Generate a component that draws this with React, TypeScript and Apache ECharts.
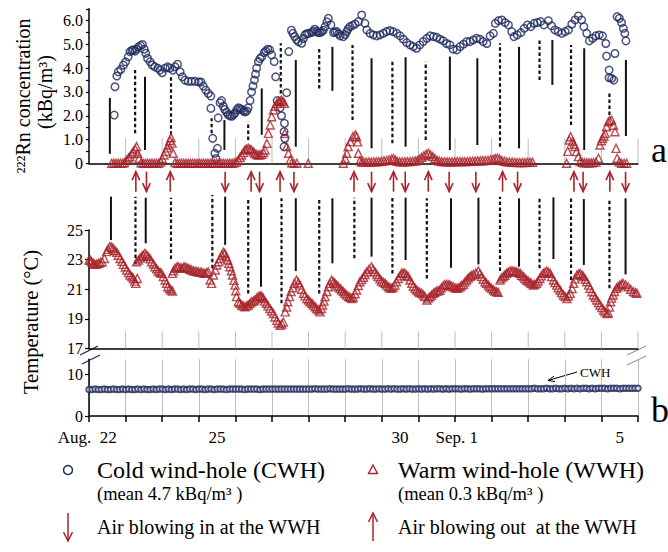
import React, { useEffect, useRef } from 'react';
import * as echarts from 'echarts';

const NAVY = '#1e2a5c';
const RED = '#a8232b';
const FONT = '"Liberation Serif", "Times New Roman", serif';

// ---------- data ----------
const dayLabels = ['Aug.  22', '', '', '25', '', '', '', '', '30', '', 'Sep. 1', '', '', '', '5'];
const dayBoundaries = [1, 2, 3, 4, 5, 6, 7, 8, 9, 10, 11, 12, 13, 14, 15];

// CWH radon (kBq/m3) [day, value]
const cwhRadon = [
  [0.69, 2.03], [0.71, 3.22], [0.76, 3.67], [0.8, 3.85], [0.87, 3.95], [0.94, 4.13], [1.0, 4.27], [1.07, 4.48], [1.12, 4.7], [1.17, 4.75], [1.21, 4.77], [1.26, 4.72], [1.3, 4.8], [1.35, 4.9], [1.41, 4.95], [1.46, 5.0], [1.51, 4.8], [1.55, 4.63], [1.6, 4.42], [1.67, 4.27], [1.73, 4.13], [1.8, 4.06], [1.88, 4.0], [1.94, 3.92], [2.0, 3.81], [2.08, 4.0], [2.15, 4.06], [2.21, 4.0], [2.29, 3.92], [2.35, 4.06], [2.42, 4.17], [2.49, 3.85], [2.55, 3.64], [2.62, 3.5], [2.71, 3.45], [2.8, 3.45], [2.9, 3.45], [3.0, 3.42], [3.06, 3.42], [3.12, 3.25], [3.19, 3.08], [3.26, 2.94], [3.33, 2.83],
  [3.33, 2.31], [3.38, 1.05], [3.44, 0.42], [3.47, 0.2], [3.51, 0.63], [3.53, 1.91], [3.58, 2.55], [3.62, 2.64], [3.67, 2.4], [3.71, 2.26], [3.76, 2.15], [3.8, 2.05], [3.85, 2.0], [3.9, 1.98], [3.95, 2.05], [3.99, 2.12], [4.04, 2.25], [4.08, 2.33], [4.13, 2.3], [4.17, 2.26], [4.22, 2.2], [4.26, 2.16], [4.31, 2.2], [4.35, 2.33], [4.4, 2.64], [4.44, 3.0], [4.48, 3.25], [4.52, 3.5], [4.55, 3.75], [4.58, 4.0], [4.63, 4.28], [4.67, 4.4], [4.72, 4.48], [4.79, 4.66], [4.83, 4.72], [4.88, 4.8], [4.94, 4.77], [4.99, 4.56], [5.06, 4.28], [5.1, 3.64], [5.14, 2.64], [5.22, 2.33], [5.26, 2.0], [5.34, 1.68], [5.33, 1.33], [5.35, 1.05], [5.33, 0.7],
  [5.4, 2.97], [5.46, 4.7], [5.53, 5.6], [5.57, 5.47], [5.62, 5.33], [5.67, 5.2], [5.72, 5.12], [5.81, 5.05], [5.86, 5.25], [5.9, 5.4], [5.95, 5.45], [6.0, 5.47], [6.08, 5.5], [6.12, 5.55], [6.17, 5.64], [6.22, 5.55], [6.26, 5.5], [6.31, 5.5], [6.36, 5.54], [6.4, 5.6], [6.45, 5.75], [6.5, 5.95], [6.54, 6.1], [6.61, 5.82], [6.68, 5.5], [6.72, 5.52], [6.77, 5.54], [6.82, 5.45], [6.86, 5.36], [6.95, 5.33], [7.0, 5.42], [7.04, 5.54], [7.08, 5.65], [7.13, 5.75], [7.2, 5.8], [7.27, 5.86], [7.36, 5.96], [7.45, 6.24], [7.54, 5.89], [7.59, 5.61], [7.68, 5.47], [7.77, 5.4], [7.86, 5.36], [7.95, 5.4], [8.04, 5.47], [8.13, 5.54], [8.22, 5.58], [8.31, 5.54], [8.41, 5.47], [8.5, 5.36], [8.59, 5.22], [8.68, 5.08], [8.77, 4.98], [8.86, 4.91], [8.95, 4.84], [9.04, 4.98], [9.13, 5.12], [9.23, 5.26], [9.32, 5.36], [9.41, 5.33], [9.5, 5.3], [9.59, 5.22], [9.68, 5.15], [9.77, 5.04], [9.86, 4.98], [9.95, 4.8], [10.05, 4.77], [10.14, 4.91], [10.23, 5.01], [10.32, 5.12], [10.41, 5.12], [10.5, 5.19], [10.59, 5.26], [10.68, 5.22], [10.77, 5.12], [10.87, 5.04], [10.96, 5.36], [11.05, 5.47], [11.1, 5.89], [11.19, 6.0], [11.28, 6.03], [11.37, 5.92], [11.46, 5.82], [11.55, 5.54], [11.61, 5.33], [11.7, 5.4], [11.8, 5.5], [11.89, 5.68], [11.98, 5.82], [12.07, 5.75], [12.16, 5.89], [12.25, 5.92], [12.34, 5.96], [12.43, 5.82], [12.55, 6.0], [12.64, 5.78], [12.73, 5.61], [12.82, 5.54], [12.92, 5.47], [13.01, 5.54], [13.1, 5.61], [13.19, 5.85], [13.28, 6.03], [13.37, 6.2], [13.46, 6.03], [13.52, 5.75], [13.6, 5.47], [13.67, 5.15], [13.76, 5.26], [13.85, 5.36], [13.94, 5.4], [14.03, 5.36], [14.12, 5.04], [14.14, 4.51], [14.21, 3.92], [14.21, 3.6], [14.28, 3.57], [14.34, 3.5], [14.37, 4.62], [14.43, 6.17], [14.49, 6.1], [14.55, 5.92], [14.6, 5.68], [14.64, 5.47], [14.67, 5.15],
];

// WWH radon (kBq/m3) [day, value]
const wwhRadon = [
  [0.62, 0], [0.68, 0], [0.74, 0], [0.8, 0], [0.86, 0], [0.92, 0], [0.97, 0.03], [1.03, 0.14], [1.08, 0.22], [1.12, 0.28], [1.17, 0.4], [1.21, 0.49], [1.26, 0.6], [1.3, 0.7], [1.33, 0.42], [1.37, 0.21], [1.42, 0.02], [1.48, 0], [1.54, 0], [1.6, 0], [1.66, 0], [1.72, 0], [1.78, 0], [1.84, 0], [1.9, 0], [1.96, 0.05],
  [2.0, 0.2], [2.05, 0.35], [2.1, 0.5], [2.14, 0.65], [2.17, 0.77], [2.21, 0.95], [2.24, 1.08], [2.27, 0.85], [2.3, 0.42], [2.35, 0.03], [2.41, 0], [2.47, 0], [2.53, 0], [2.59, 0], [2.65, 0], [2.71, 0], [2.77, 0], [2.83, 0], [2.89, 0], [2.95, 0], [3.01, 0], [3.07, 0], [3.13, 0], [3.19, 0], [3.25, 0], [3.31, 0], [3.37, 0], [3.43, 0], [3.49, 0], [3.55, 0], [3.61, 0], [3.67, 0], [3.73, 0], [3.79, 0], [3.85, 0], [3.91, 0], [3.97, 0.02], [4.03, 0.05],
  [4.08, 0.14], [4.13, 0.25], [4.17, 0.35], [4.22, 0.45], [4.26, 0.56], [4.3, 0.6], [4.35, 0.63], [4.4, 0.6], [4.44, 0.56], [4.49, 0.48], [4.53, 0.42], [4.58, 0.37], [4.63, 0.35], [4.67, 0.36], [4.72, 0.38], [4.77, 0.45], [4.81, 0.56], [4.86, 0.84], [4.9, 1.26], [4.95, 1.61], [4.99, 1.96], [5.04, 2.24], [5.08, 2.4], [5.13, 2.52], [5.18, 2.6], [5.22, 2.62], [5.26, 2.66], [5.3, 2.6], [5.34, 2.52], [5.35, 1.26], [5.4, 0.7], [5.45, 0.42], [5.5, 0.15], [5.54, 0.02], [5.6, 0], [5.68, 0], [5.99, 0],
  [6.95, 0], [7.0, 0.2], [7.04, 0.42], [7.08, 0.7], [7.14, 0.91], [7.21, 1.12], [7.28, 1.2], [7.31, 1.12], [7.34, 0.9], [7.36, 0.42], [7.4, 0.1], [7.45, 0.05],
  [7.5, 0.05], [7.57, 0.05], [7.64, 0.05], [7.71, 0.05], [7.78, 0.06], [7.85, 0.06], [7.92, 0.07], [7.99, 0.08], [8.06, 0.1], [8.13, 0.12], [8.2, 0.15], [8.27, 0.18], [8.32, 0.2], [8.37, 0.14], [8.42, 0.08], [8.49, 0.06], [8.56, 0.06], [8.63, 0.06], [8.7, 0.07], [8.77, 0.07], [8.84, 0.08], [8.91, 0.1], [8.97, 0.12], [9.03, 0.18], [9.09, 0.25], [9.15, 0.32], [9.21, 0.38], [9.27, 0.42], [9.33, 0.36], [9.39, 0.28], [9.45, 0.2], [9.51, 0.13], [9.57, 0.09], [9.64, 0.07], [9.71, 0.06], [9.78, 0.06], [9.85, 0.06], [9.92, 0.06], [9.99, 0.06], [10.06, 0.07], [10.13, 0.07], [10.2, 0.07], [10.27, 0.07], [10.34, 0.07], [10.41, 0.08], [10.48, 0.08], [10.55, 0.09], [10.62, 0.1], [10.69, 0.1], [10.76, 0.11], [10.83, 0.12], [10.9, 0.13], [10.97, 0.15], [11.04, 0.17], [11.1, 0.2], [11.16, 0.22], [11.22, 0.18], [11.28, 0.12], [11.35, 0.08], [11.42, 0.06], [11.49, 0.05], [11.56, 0.05], [11.63, 0.04], [11.7, 0.03], [11.77, 0.03], [11.84, 0.03], [11.91, 0.03], [11.98, 0.04], [12.05, 0.05], [12.12, 0.04],
  [13.05, 0], [13.08, 0.5], [13.12, 0.98], [13.16, 1.12], [13.21, 0.91], [13.25, 0.8], [13.28, 0.7], [13.32, 0.49], [13.37, 0.28], [13.42, 0.07], [13.48, 0.03], [13.54, 0.02], [13.6, 0.02], [13.66, 0.02], [13.72, 0.02], [13.78, 0.03], [13.85, 0.05], [13.92, 0.21], [13.96, 0.77], [14.0, 0.95], [14.03, 1.05], [14.07, 1.15], [14.1, 1.26], [14.14, 1.54], [14.19, 1.75], [14.23, 1.8], [14.28, 1.82], [14.33, 1.6], [14.37, 1.33], [14.4, 0.63], [14.43, 0.21], [14.49, 0.05], [14.55, 0], [14.62, 0], [14.69, 0],
];

// WWH temperature (°C) [day, value]
const wwhTemp = [
  [0.0, 22.97], [0.04, 22.95], [0.07, 22.86], [0.12, 22.75], [0.16, 22.68], [0.21, 22.7], [0.26, 22.75], [0.31, 22.8], [0.36, 22.86], [0.42, 23.08], [0.48, 23.54], [0.52, 23.7], [0.57, 23.88], [0.62, 23.85], [0.66, 23.76], [0.71, 23.62], [0.76, 23.49], [0.8, 23.3], [0.85, 23.08], [0.9, 22.88], [0.94, 22.68], [0.99, 22.5], [1.03, 22.3], [1.08, 22.12], [1.12, 21.96], [1.17, 21.85], [1.21, 21.73], [1.25, 21.55], [1.28, 21.4], [1.32, 21.73],
  [1.3, 22.86], [1.35, 22.97], [1.4, 23.1], [1.44, 23.2], [1.48, 23.3], [1.53, 23.42], [1.57, 23.3], [1.62, 23.2], [1.67, 23.05], [1.71, 22.86], [1.76, 22.7], [1.8, 22.52], [1.85, 22.38], [1.89, 22.23], [1.94, 22.15], [1.98, 22.07], [2.03, 21.85], [2.08, 21.62], [2.12, 21.4], [2.15, 21.17], [2.2, 21.05], [2.24, 20.95], [2.28, 20.88],
  [2.28, 22.07], [2.31, 22.25], [2.35, 22.41], [2.4, 22.5], [2.44, 22.52], [2.49, 22.45], [2.53, 22.41], [2.58, 22.48], [2.62, 22.52], [2.67, 22.45], [2.71, 22.41], [2.76, 22.35], [2.8, 22.3], [2.85, 22.25], [2.9, 22.23], [2.95, 22.2], [2.99, 22.18], [3.04, 22.15], [3.08, 22.14], [3.13, 22.1], [3.17, 22.07], [3.22, 22.12], [3.26, 22.18], [3.31, 21.62], [3.35, 21.4], [3.4, 21.96], [3.45, 22.3], [3.49, 22.64], [3.54, 22.86], [3.58, 23.08], [3.63, 23.3], [3.67, 23.49], [3.71, 23.42], [3.75, 23.2], [3.79, 22.97], [3.82, 22.75], [3.85, 22.52], [3.89, 22.25], [3.92, 21.96], [3.96, 21.6], [3.99, 21.28], [4.01, 20.9], [4.03, 20.5], [4.08, 20.16], [4.12, 20.05], [4.17, 19.93], [4.21, 19.88], [4.26, 19.82], [4.31, 19.88], [4.35, 19.93], [4.4, 20.05], [4.44, 20.16], [4.49, 20.2], [4.53, 20.27], [4.58, 20.4], [4.63, 20.5], [4.67, 20.53], [4.7, 20.56], [4.73, 20.48], [4.76, 20.38], [4.8, 20.2], [4.85, 20.05], [4.89, 19.88], [4.94, 19.7], [4.99, 19.53], [5.04, 19.36], [5.08, 19.13], [5.13, 18.9], [5.17, 18.72], [5.22, 18.56], [5.27, 18.65], [5.31, 18.79], [5.36, 19.47], [5.4, 19.8], [5.43, 20.16], [5.48, 20.5], [5.52, 20.84], [5.57, 21.1], [5.61, 21.4], [5.67, 21.62], [5.72, 21.45], [5.76, 21.28], [5.81, 21.0], [5.86, 20.72], [5.9, 20.55], [5.95, 20.38], [6.0, 20.27], [6.04, 20.16], [6.09, 20.05], [6.13, 19.93], [6.18, 19.82], [6.22, 19.7], [6.27, 19.6], [6.31, 19.47], [6.35, 19.7], [6.38, 19.93], [6.42, 20.2], [6.45, 20.5], [6.5, 20.85], [6.54, 21.17], [6.58, 21.4], [6.63, 21.62], [6.68, 21.5], [6.72, 21.4], [6.77, 21.28], [6.81, 21.17], [6.86, 21.06], [6.9, 20.95], [6.95, 20.84], [6.99, 20.72], [7.04, 20.6], [7.09, 20.5], [7.13, 20.45], [7.18, 20.38], [7.22, 20.45], [7.27, 20.7], [7.31, 20.95], [7.36, 21.25], [7.4, 21.51], [7.45, 21.65], [7.5, 21.8], [7.54, 22.0], [7.59, 22.18], [7.65, 22.35], [7.72, 22.52], [7.76, 22.35], [7.81, 22.18], [7.86, 22.0], [7.9, 21.85], [7.95, 21.7], [7.99, 21.55], [8.04, 21.48], [8.09, 21.4], [8.13, 21.28], [8.18, 21.17], [8.22, 21.1], [8.27, 21.06], [8.31, 21.15], [8.36, 21.28], [8.4, 21.5], [8.45, 21.73], [8.5, 21.9], [8.54, 22.07], [8.58, 22.1], [8.63, 22.07], [8.68, 21.95], [8.72, 21.85], [8.77, 21.62], [8.82, 21.4], [8.86, 21.2], [8.91, 21.06], [8.95, 20.95], [9.0, 20.84], [9.04, 20.78], [9.09, 20.72], [9.14, 20.6], [9.18, 20.5], [9.23, 20.27], [9.27, 20.4], [9.32, 20.5], [9.36, 20.6], [9.41, 20.72], [9.45, 20.8], [9.5, 20.88], [9.54, 20.9], [9.59, 20.95], [9.63, 21.1], [9.68, 21.24], [9.72, 21.3], [9.77, 21.33], [9.82, 21.3], [9.86, 21.28], [9.9, 21.22], [9.95, 21.17], [10.0, 21.1], [10.05, 21.06], [10.09, 21.1], [10.14, 21.17], [10.18, 21.25], [10.23, 21.33], [10.27, 21.48], [10.32, 21.62], [10.36, 21.75], [10.41, 21.85], [10.45, 21.92], [10.5, 22.0], [10.57, 22.1], [10.64, 22.23], [10.68, 22.05], [10.73, 21.85], [10.77, 21.68], [10.82, 21.51], [10.86, 21.4], [10.91, 21.28], [10.95, 21.17], [11.0, 21.06], [11.05, 20.97], [11.09, 20.88], [11.14, 20.83], [11.18, 20.79],
  [11.23, 21.62], [11.27, 21.75], [11.32, 21.85], [11.36, 21.95], [11.41, 22.07], [11.45, 22.15], [11.5, 22.23], [11.55, 22.23], [11.59, 22.23], [11.64, 22.2], [11.68, 22.18], [11.73, 22.12], [11.78, 22.07], [11.82, 21.95], [11.87, 21.85], [11.91, 21.73], [11.96, 21.62], [12.0, 21.55], [12.05, 21.46], [12.09, 21.38], [12.14, 21.28], [12.18, 21.33], [12.23, 21.4], [12.27, 21.55], [12.32, 21.73], [12.36, 21.9], [12.41, 22.07], [12.46, 22.15], [12.51, 22.23], [12.55, 22.15], [12.6, 22.07], [12.64, 21.85], [12.69, 21.62], [12.73, 21.45], [12.78, 21.28], [12.82, 21.1], [12.87, 20.95], [12.91, 20.78], [12.96, 20.61], [13.01, 20.5], [13.06, 20.38], [13.1, 20.55], [13.15, 20.72], [13.2, 21.05], [13.24, 21.4], [13.28, 21.7], [13.33, 21.96], [13.38, 22.02], [13.42, 22.07], [13.47, 21.95], [13.51, 21.85], [13.56, 21.68], [13.6, 21.51], [13.65, 21.28], [13.69, 21.06], [13.74, 20.83], [13.78, 20.61], [13.83, 20.45], [13.87, 20.27], [13.92, 20.1], [13.96, 19.93], [14.01, 19.76], [14.06, 19.59], [14.1, 19.47], [14.15, 19.36], [14.19, 19.4], [14.22, 19.8], [14.25, 20.16], [14.28, 20.4], [14.32, 20.61], [14.36, 20.85], [14.41, 21.06], [14.45, 21.17], [14.5, 21.28], [14.55, 21.35], [14.59, 21.4], [14.66, 21.3], [14.73, 21.17], [14.8, 21.0], [14.87, 20.84], [14.93, 20.78], [14.97, 20.72],
];

// CWH temperature (°C), one reading every 2 hours from Aug 22 00:00
const cwhTempStepDays = 1 / 12;
const cwhTemp = [
  6.3, 6.3, 6.4, 6.3, 6.3, 6.4, 6.3, 6.3, 6.4, 6.3, 6.3, 6.4,
  6.3, 6.4, 6.3, 6.3, 6.4, 6.3, 6.4, 6.3, 6.3, 6.4, 6.3, 6.4,
  6.4, 6.3, 6.4, 6.3, 6.4, 6.4, 6.3, 6.4, 6.3, 6.4, 6.4, 6.3,
  6.4, 6.4, 6.3, 6.4, 6.4, 6.3, 6.4, 6.4, 6.4, 6.3, 6.4, 6.4,
  6.4, 6.4, 6.4, 6.3, 6.4, 6.4, 6.4, 6.4, 6.3, 6.4, 6.4, 6.4,
  6.4, 6.4, 6.4, 6.4, 6.4, 6.4, 6.4, 6.4, 6.4, 6.4, 6.4, 6.4,
  6.4, 6.4, 6.5, 6.4, 6.4, 6.4, 6.4, 6.5, 6.4, 6.4, 6.4, 6.4,
  6.4, 6.5, 6.4, 6.4, 6.4, 6.5, 6.4, 6.4, 6.5, 6.4, 6.4, 6.5,
  6.4, 6.4, 6.5, 6.4, 6.5, 6.4, 6.4, 6.5, 6.4, 6.5, 6.4, 6.4,
  6.5, 6.4, 6.5, 6.4, 6.5, 6.4, 6.5, 6.5, 6.4, 6.5, 6.4, 6.5,
  6.5, 6.5, 6.4, 6.5, 6.5, 6.4, 6.5, 6.5, 6.5, 6.4, 6.5, 6.5,
  6.5, 6.5, 6.5, 6.5, 6.5, 6.5, 6.5, 6.5, 6.5, 6.5, 6.5, 6.5,
  6.5, 6.5, 6.6, 6.5, 6.5, 6.5, 6.6, 6.5, 6.5, 6.6, 6.5, 6.5,
  6.6, 6.5, 6.6, 6.5, 6.6, 6.5, 6.6, 6.6, 6.5, 6.6, 6.5, 6.6,
  6.6, 6.6, 6.5, 6.6, 6.6, 6.6, 6.5, 6.6, 6.6, 6.6, 6.6, 6.6,
  6.6,
];

// event lines: [day, from, to] in the panel's units
const radonSolidLines = [[0.57, 0.4, 2.75], [1.53, 0.56, 3.64], [3.7, 0.56, 1.82], [4.72, 1.2, 3.15], [5.65, 0.7, 4.35], [6.65, 3.05, 4.9], [7.72, 0.63, 4.42], [8.65, 0.7, 4.46], [9.86, 0.56, 4.49], [10.61, 0.77, 4.42], [11.75, 0.63, 4.9], [12.66, 3.3, 5.19], [13.53, 0.56, 4.84], [14.67, 1.15, 4.35]];
const radonDashedLines = [[1.26, 1.26, 3.93], [2.24, 1.2, 3.64], [3.35, 1.26, 1.9], [4.35, 0.98, 1.75], [5.24, 2.94, 5.05], [6.29, 3.15, 4.84], [7.2, 1.82, 4.98], [8.29, 0.84, 4.35], [9.2, 0.98, 4.27], [11.23, 0.7, 5.05], [12.31, 3.5, 5.19], [13.17, 1.61, 4.98], [14.22, 2.03, 3.01]];
const tempSolidLines = [[0.6, 24.32, 27.25], [1.55, 24.1, 27.18], [3.72, 24.0, 27.25], [4.7, 21.17, 27.18], [5.65, 22.23, 27.14], [6.65, 22.75, 27.14], [7.72, 23.2, 27.18], [8.65, 22.97, 27.18], [9.89, 22.45, 27.14], [10.64, 22.68, 27.18], [11.75, 22.52, 27.14], [12.69, 23.04, 27.2], [13.52, 22.64, 27.09], [14.66, 22.0, 27.14]];
const tempDashedLines = [[1.27, 22.7, 27.25], [2.24, 23.04, 27.18], [3.37, 22.41, 27.36], [4.35, 20.72, 27.14], [5.26, 20.05, 27.14], [6.29, 20.72, 27.14], [7.25, 23.09, 27.18], [8.29, 22.07, 27.18], [9.23, 21.73, 27.14], [11.23, 22.23, 27.25], [12.31, 22.41, 27.25], [13.17, 21.62, 27.14], [14.22, 21.06, 27.14]];

// air flow arrows at the WWH (day)
const blowingOutDays = [1.28, 2.22, 4.43, 5.22, 7.24, 8.32, 9.27, 11.3, 13.25, 14.23];
const blowingInDays = [1.57, 3.72, 4.66, 5.6, 7.72, 8.64, 9.84, 10.57, 11.71, 13.5, 14.66];

const radonTickLabel = (v: number) =>
  Math.abs(v - Math.round(v)) < 1e-6 ? (v === 0 ? '0' : v.toFixed(1)) : '';

// layout constants (axis units) for decorative elements
const ARROW_HI = 28.94;
const ARROW_LO = 27.59;
const RADON_GRID_TOP = 1.05;
const TEMP_GRID_TOP = 18.15;

function vlineSeries(data: number[][], xi: number, yi: number, dashed: boolean) {
  return {
    type: 'custom', xAxisIndex: xi, yAxisIndex: yi, clip: false, silent: true, z: 3,
    data,
    renderItem: (_p: any, api: any) => {
      const a = api.coord([api.value(0), api.value(1)]);
      const b = api.coord([api.value(0), api.value(2)]);
      return {
        type: 'line',
        shape: { x1: a[0], y1: a[1], x2: b[0], y2: b[1] },
        style: { stroke: '#111', lineWidth: dashed ? 2.2 : 2, lineDash: dashed ? [3.5, 2.5] : null },
      };
    },
  };
}

function gridTickSeries(xi: number, yi: number, lo: number, hi: number) {
  return {
    type: 'custom', xAxisIndex: xi, yAxisIndex: yi, clip: false, silent: true, z: 1,
    data: dayBoundaries.map((d) => [d, lo]),
    renderItem: (_p: any, api: any) => {
      const a = api.coord([api.value(0), lo]);
      const b = api.coord([api.value(0), hi]);
      return {
        type: 'line',
        shape: { x1: a[0], y1: a[1], x2: b[0], y2: b[1] },
        style: { stroke: '#bdbdbd', lineWidth: 1 },
      };
    },
  };
}

function arrowSeries(days: number[], up: boolean) {
  return {
    type: 'custom', xAxisIndex: 1, yAxisIndex: 1, clip: false, silent: true, z: 4,
    data: days.map((d) => [d, ARROW_LO]),
    renderItem: (_p: any, api: any) => {
      const t = api.coord([api.value(0), ARROW_HI]);
      const b = api.coord([api.value(0), ARROW_LO]);
      const x = t[0];
      const tip = up ? t[1] : b[1];
      const dir = up ? 1 : -1;
      return {
        type: 'group',
        children: [
          { type: 'line', shape: { x1: x, y1: t[1], x2: x, y2: b[1] }, style: { stroke: RED, lineWidth: 1.6 } },
          {
            type: 'polyline',
            shape: { points: [[x - 3.8, tip + dir * 8.5], [x, tip], [x + 3.8, tip + dir * 8.5]] },
            style: { stroke: RED, lineWidth: 1.6, fill: 'none' },
          },
        ],
      };
    },
  };
}

const txt = (x: number, y: number, text: string, size: number, opts: any = {}) => ({
  type: 'text', x, y, rotation: opts.rotation || 0, silent: true,
  style: {
    text, fontSize: size, fontFamily: FONT, fill: opts.fill || '#000',
    align: opts.align || 'left', verticalAlign: 'middle',
    textAlign: opts.align || 'left', textVerticalAlign: 'middle',
  },
});

export default function App() {
  const ref = useRef<HTMLDivElement>(null);
  useEffect(() => {
    if (!ref.current) return;
    const chart = echarts.init(ref.current, null, { renderer: 'svg' });
    const axisLine = { show: true, lineStyle: { color: '#000', width: 1.5 } };
    const labelStyle = { fontSize: 16, fontFamily: FONT, color: '#000' };
    const xBase = {
      type: 'value', min: 0, max: 15, interval: 1,
      axisLine, axisTick: { show: false }, axisLabel: { show: false }, splitLine: { show: false },
    };
    const option: any = {
      animation: false,
      backgroundColor: '#fff',
      grid: [
        { left: 89, top: 8.8, width: 549, height: 154.5, outerBoundsMode: 'none' },
        { left: 89, top: 230, width: 549, height: 118.5, outerBoundsMode: 'none' },
        { left: 89, top: 359.3, width: 549, height: 56.7, outerBoundsMode: 'none' },
      ],
      xAxis: [
        { ...xBase, gridIndex: 0 },
        { ...xBase, gridIndex: 1 },
        {
          ...xBase, gridIndex: 2,
          axisTick: { show: true, length: 6, lineStyle: { color: '#000', width: 1.5 } },
          splitLine: { show: true, lineStyle: { color: '#bdbdbd', width: 1 } },
        },
        {
          type: 'category', gridIndex: 2, position: 'bottom', data: dayLabels, boundaryGap: true,
          axisLine: { show: false }, axisTick: { show: false }, splitLine: { show: false },
          axisLabel: {
            ...labelStyle, fontSize: 17, interval: 0, margin: 13,
            formatter: (v: string) =>
              v.startsWith('Aug.') ? v + '{sa| }' : v.startsWith('Sep.') ? v + '{ss| }' : v,
            rich: { sa: { width: 40 }, ss: { width: 33 } },
          },
        },
      ],
      yAxis: [
        {
          type: 'value', gridIndex: 0, min: 0, max: 6.5, interval: 0.5,
          axisLine, axisTick: { show: true, length: 3, lineStyle: { color: '#000', width: 1.2 } },
          axisLabel: { ...labelStyle, margin: 6, formatter: radonTickLabel },
          splitLine: { show: false },
        },
        {
          type: 'value', gridIndex: 1, min: 17, max: 25,
          axisLine, axisTick: { show: true, length: 4, customValues: [17, 19, 21, 23, 25], lineStyle: { color: '#000', width: 1.2 } },
          axisLabel: { ...labelStyle, margin: 6, customValues: [17, 19, 21, 23, 25] },
          splitLine: { show: false },
        },
        {
          type: 'value', gridIndex: 2, min: 0, max: 13.5,
          axisLine, axisTick: { show: true, length: 4, customValues: [0, 10], lineStyle: { color: '#000', width: 1.2 } },
          axisLabel: { ...labelStyle, margin: 6, customValues: [0, 10] },
          splitLine: { show: false },
        },
      ],
      series: [
        gridTickSeries(0, 0, 0, RADON_GRID_TOP),
        gridTickSeries(1, 1, 17, TEMP_GRID_TOP),
        vlineSeries(radonSolidLines, 0, 0, false),
        vlineSeries(radonDashedLines, 0, 0, true),
        vlineSeries(tempSolidLines, 1, 1, false),
        vlineSeries(tempDashedLines, 1, 1, true),
        arrowSeries(blowingOutDays, true),
        arrowSeries(blowingInDays, false),
        {
          type: 'scatter', name: 'CWH radon', xAxisIndex: 0, yAxisIndex: 0, data: cwhRadon,
          symbol: 'circle', symbolSize: 7.5, z: 5,
          itemStyle: { color: 'rgba(255,255,255,0)', borderColor: NAVY, borderWidth: 1.5 },
        },
        {
          type: 'scatter', name: 'WWH radon', xAxisIndex: 0, yAxisIndex: 0, data: wwhRadon,
          symbol: 'triangle', symbolSize: 8, z: 5,
          itemStyle: { color: 'rgba(255,255,255,0)', borderColor: RED, borderWidth: 1.4 },
        },
        {
          type: 'scatter', name: 'WWH temperature', xAxisIndex: 1, yAxisIndex: 1, data: wwhTemp,
          symbol: 'triangle', symbolSize: 8, z: 5,
          itemStyle: { color: 'rgba(255,255,255,0)', borderColor: RED, borderWidth: 1.4 },
        },
        {
          type: 'scatter', name: 'CWH temperature', xAxisIndex: 2, yAxisIndex: 2,
          data: cwhTemp.map((v, i) => [i * cwhTempStepDays, v]),
          symbol: 'circle', symbolSize: 5.5, z: 5,
          itemStyle: { color: '#fff', borderColor: NAVY, borderWidth: 2 },
        },
      ],
      graphic: [
        txt(23, 96, '²²²Rn concentration', 20, { rotation: Math.PI / 2, align: 'center' }),
        txt(45, 92, '(kBq/m³)', 20, { rotation: Math.PI / 2, align: 'center' }),
        txt(31, 322, 'Temperature (°C)', 20.5, { rotation: Math.PI / 2, align: 'center' }),
        txt(651, 150, 'a', 36),
        txt(651, 410, 'b', 36),
        // axis break marks
        { type: 'line', silent: true, shape: { x1: 80, y1: 355, x2: 98, y2: 346 }, style: { stroke: NAVY, lineWidth: 1.3 } },
        { type: 'line', silent: true, shape: { x1: 82, y1: 364, x2: 100, y2: 355 }, style: { stroke: NAVY, lineWidth: 1.3 } },
        { type: 'line', silent: true, shape: { x1: 627, y1: 355, x2: 646, y2: 346 }, style: { stroke: '#999', lineWidth: 1.2 } },
        { type: 'line', silent: true, shape: { x1: 627, y1: 365, x2: 646, y2: 356 }, style: { stroke: '#999', lineWidth: 1.2 } },
        // CWH annotation
        { type: 'line', silent: true, shape: { x1: 577, y1: 372, x2: 548, y2: 380.5 }, style: { stroke: '#000', lineWidth: 1 } },
        { type: 'polyline', silent: true, shape: { points: [[554, 376], [548, 380.5], [555, 381.5]] }, style: { stroke: '#000', lineWidth: 1, fill: 'none' } },
        txt(580, 372, 'CWH', 13),
        // legend
        { type: 'circle', silent: true, shape: { cx: 68, cy: 470, r: 4.5 }, style: { fill: 'none', stroke: NAVY, lineWidth: 1.5 } },
        txt(97, 470, 'Cold wind-hole (CWH)', 24),
        txt(97, 494, '(mean 4.7 kBq/m³ )', 18.5),
        { type: 'polygon', silent: true, shape: { points: [[373, 465], [377.5, 473.5], [368.5, 473.5]] }, style: { fill: 'none', stroke: RED, lineWidth: 1.4 } },
        txt(398, 470, 'Warm wind-hole (WWH)', 24),
        txt(398, 494, '(mean 0.3 kBq/m³ )', 18.5),
        { type: 'line', silent: true, shape: { x1: 68, y1: 513, x2: 68, y2: 541 }, style: { stroke: RED, lineWidth: 1.5 } },
        { type: 'polyline', silent: true, shape: { points: [[63.5, 532], [68, 541], [72.5, 532]] }, style: { stroke: RED, lineWidth: 1.5, fill: 'none' } },
        txt(97, 527, 'Air blowing in at the WWH', 20),
        { type: 'line', silent: true, shape: { x1: 373, y1: 513, x2: 373, y2: 541 }, style: { stroke: RED, lineWidth: 1.5 } },
        { type: 'polyline', silent: true, shape: { points: [[368.5, 522], [373, 513], [377.5, 522]] }, style: { stroke: RED, lineWidth: 1.5, fill: 'none' } },
        txt(398, 527, 'Air blowing out  at the WWH', 20),
      ],
    };
    chart.setOption(option);
    return () => chart.dispose();
  }, []);
  return <div ref={ref} style={{ position: 'absolute', left: 0, top: 0, width: 668, height: 552 }} />;
}
